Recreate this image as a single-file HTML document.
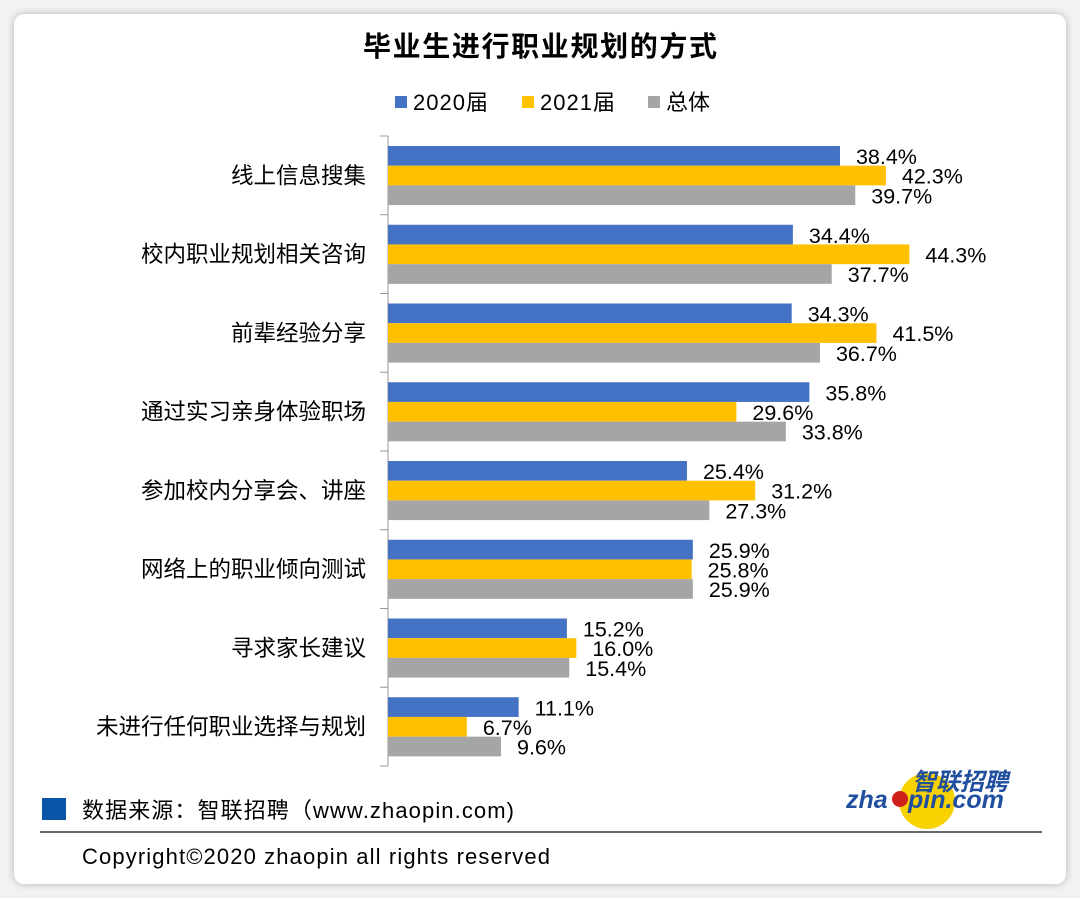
<!DOCTYPE html>
<html><head><meta charset="utf-8"><style>
body{margin:0;background:#f2f2f2;}
#card{position:absolute;left:14px;top:14px;width:1052px;height:870px;background:#fff;border-radius:10px;box-shadow:0 0 8px rgba(0,0,0,0.25);}
svg{position:absolute;left:0;top:0;font-family:"Liberation Sans","Noto Sans CJK SC",sans-serif;}
</style></head><body>
<div id="card"></div>
<svg id="chart" width="1080" height="898">
<text x="540" y="56" text-anchor="middle" font-size="28" font-weight="bold" fill="#000" textLength="354">毕业生进行职业规划的方式</text>
<g>
<rect x="395" y="96" width="12" height="12" fill="#4472c4"/>
<text x="413" y="110" font-size="22" textLength="75">2020届</text>
<rect x="522" y="96" width="12" height="12" fill="#ffc000"/>
<text x="540" y="110" font-size="22" textLength="75">2021届</text>
<rect x="648" y="96" width="12" height="12" fill="#a5a5a5"/>
<text x="666" y="110" font-size="22">总体</text>
</g>
<g id="plot"></g>
<rect x="42" y="798" width="24" height="22" fill="#0b55a8"/>
<text x="82" y="818" font-size="22" textLength="432">数据来源：智联招聘（www.zhaopin.com)</text>
<g>
<circle cx="927" cy="801" r="28" fill="#f7d100"/>
<circle cx="900" cy="799" r="8" fill="#d0201c"/>
<text x="912" y="790" font-size="24" font-weight="bold" font-style="italic" fill="#1f4f9e">智联招聘</text>
<text x="846" y="808" font-size="25" font-weight="bold" font-style="italic" fill="#1f4f9e">zha</text>
<text x="908" y="808" font-size="25" font-weight="bold" font-style="italic" fill="#1f4f9e">pin.com</text>
</g>
<line x1="40" y1="832" x2="1042" y2="832" stroke="#333" stroke-width="1.5"/>
<text x="82" y="864" font-size="22" textLength="468">Copyright©2020 zhaopin all rights reserved</text>
</svg>
<script>
const categories=["线上信息搜集","校内职业规划相关咨询","前辈经验分享","通过实习亲身体验职场","参加校内分享会、讲座","网络上的职业倾向测试","寻求家长建议","未进行任何职业选择与规划"];
const s2020=[38.4,34.4,34.3,35.8,25.4,25.9,15.2,11.1];
const s2021=[42.3,44.3,41.5,29.6,31.2,25.8,16.0,6.7];
const sTotal=[39.7,37.7,36.7,33.8,27.3,25.9,15.4,9.6];
const NS="http://www.w3.org/2000/svg";
const g=document.getElementById('plot');
const x0=388,k=11.77,top0=136,band=78.75;
const xs=v=>x0+v*k;
const yb=i=>top0+i*band;
function el(t,a){const e=document.createElementNS(NS,t);for(const n in a)e.setAttribute(n,a[n]);g.appendChild(e);return e;}
const ax=el('line',{x1:x0,y1:top0,x2:x0,y2:top0+8*band,stroke:'#999','stroke-width':1});


for(let i=0;i<=8;i++){const t=el('line',{x1:x0-8,y1:yb(i),x2:x0,y2:yb(i),stroke:'#999','stroke-width':1});

}
const series=[[s2020,'#4472c4','2020'],[s2021,'#ffc000','2021'],[sTotal,'#a5a5a5','total']];
categories.forEach((c,i)=>{
const lb=el('text',{x:366,y:yb(i)+band/2+8,'text-anchor':'end','font-size':22.5});lb.textContent=c;


series.forEach(([arr,col,nm],j)=>{
const y=yb(i)+10+j*19.7;
const r=el('rect',{x:x0,y:y,width:xs(arr[i])-x0,height:19.7,fill:col});


const t=el('text',{x:xs(arr[i])+16,y:y+18,'font-size':21.5});t.textContent=arr[i].toFixed(1)+'%';


});});
</script>
</body></html>
